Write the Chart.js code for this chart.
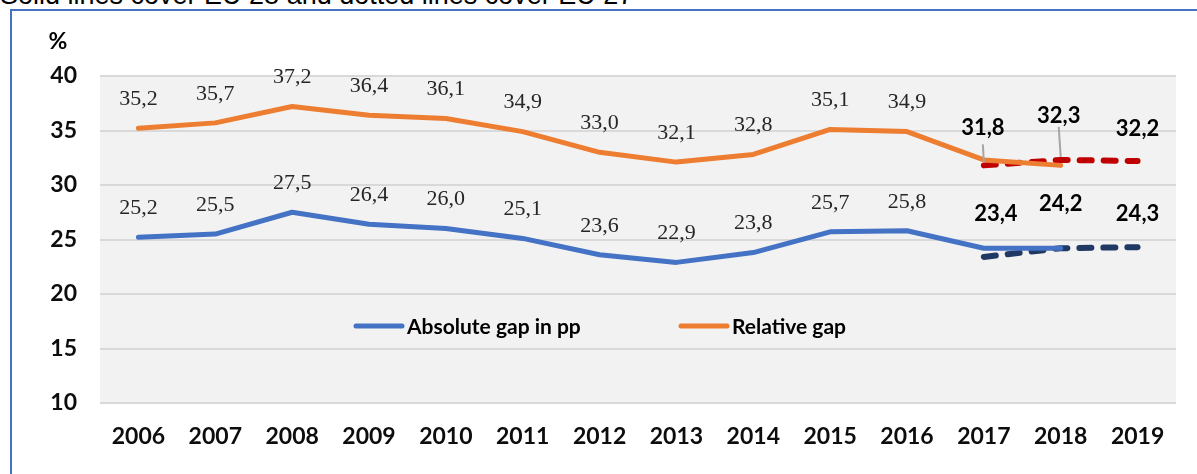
<!DOCTYPE html>
<html>
<head>
<meta charset="utf-8">
<script src="https://cdn.jsdelivr.net/npm/chart.js@4.4.1/dist/chart.umd.min.js"></script>
<style>
  html, body { margin: 0; padding: 0; background: #fff; overflow: hidden; }
  #note { position: absolute; left: 0; top: -18px; font-family: "Liberation Sans", Arial, sans-serif; font-size: 27px; line-height: 27px; color: #000; white-space: nowrap; }
  #frame { position: absolute; left: 10px; top: 9px; width: 1200px; height: 480px; border-left: 2px solid #4472c4; border-top: 2px solid #4472c4; }
  #wrap { position: absolute; left: 0; top: 0; width: 1197px; height: 474px; }
</style>
</head>
<body>
<div id="note">Solid lines cover EU 28 and dotted lines cover EU 27</div>
<div id="frame"></div>
<div id="wrap"><canvas id="chart" width="1197" height="474"></canvas></div>
<script>
// Data
const years = ['2006', '2007', '2008', '2009', '2010', '2011', '2012', '2013', '2014', '2015', '2016', '2017', '2018', '2019'];
const absGapEU28 = [25.2, 25.5, 27.5, 26.4, 26.0, 25.1, 23.6, 22.9, 23.8, 25.7, 25.8, 24.2, 24.2, null];
const relGapEU28 = [35.2, 35.7, 37.2, 36.4, 36.1, 34.9, 33.0, 32.1, 32.8, 35.1, 34.9, 32.3, 31.8, null];
const absGapEU27 = [null, null, null, null, null, null, null, null, null, null, null, 23.4, 24.2, 24.3];
const relGapEU27 = [null, null, null, null, null, null, null, null, null, null, null, 31.8, 32.3, 32.2];
// which EU28 points carry a value label (2017/2018 are labelled on the EU27 lines)
const labelledEU28 = 11;
const yTicks = [10, 15, 20, 25, 30, 35, 40];

const fmt = v => v.toFixed(1).replace('.', ',');
const sansBold = size => 'bold ' + size + 'px Lato, "Open Sans", sans-serif';

// grey plot area
const plotBackground = {
    id: 'plotBackground',
    beforeDraw(chart) {
        const { ctx, chartArea: a } = chart;
        ctx.save();
        ctx.fillStyle = '#f2f2f2';
        ctx.fillRect(a.left, a.top, a.right - a.left, a.bottom - a.top);
        ctx.restore();
    }
};

// value labels, leader lines, in-plot legend and the % unit
const annotations = {
    id: 'annotations',
    afterDatasetsDraw(chart) {
        const ctx = chart.ctx;
        ctx.save();
        ctx.textAlign = 'center';
        ctx.textBaseline = 'middle';

        // EU28: serif labels above the points
        [0, 1].forEach(di => {
            const meta = chart.getDatasetMeta(di);
            const data = chart.data.datasets[di].data;
            ctx.font = '22px "Liberation Serif", "Times New Roman", serif';
            ctx.fillStyle = '#262626';
            for (let i = 0; i < labelledEU28; i++) {
                const p = meta.data[i];
                ctx.fillText(fmt(data[i]), p.x, p.y - 29);
            }
        });

        // EU27: bold labels, nudged like in the source
        const nudges = {
            2: [[12, -43], [0, -44], [0, -33]],
            3: [[-1, -37], [-2, -44], [0, -32]]
        };
        // leader lines on the relative-gap labels
        const meta3 = chart.getDatasetMeta(3);
        ctx.strokeStyle = '#a6a6a6';
        ctx.lineWidth = 2;
        [[11, -1, -21], [12, -2, -33]].forEach(([i, dx, top]) => {
            const p = meta3.data[i];
            ctx.beginPath();
            ctx.moveTo(p.x + dx, p.y + top);
            ctx.lineTo(p.x, p.y - 3);
            ctx.stroke();
        });

        ctx.font = sansBold(22);
        ctx.fillStyle = '#000';
        [2, 3].forEach(di => {
            const meta = chart.getDatasetMeta(di);
            const data = chart.data.datasets[di].data;
            nudges[di].forEach(([dx, dy], k) => {
                const i = 11 + k;
                const p = meta.data[i];
                ctx.fillText(fmt(data[i]), p.x + dx, p.y + dy);
            });
        });
        ctx.restore();
    },
    afterDraw(chart) {
        const { ctx, chartArea: a } = chart;
        ctx.save();
        // unit
        ctx.font = sansBold(23);
        ctx.fillStyle = '#000';
        ctx.textAlign = 'center';
        ctx.textBaseline = 'middle';
        ctx.fillText('%', 58, 42);

        // legend inside the plot
        const ly = a.top + 250;
        const items = [
            { x: a.left + 256, color: '#4472c4', text: 'Absolute gap in pp' },
            { x: a.left + 581, color: '#ed7d31', text: 'Relative gap' }
        ];
        ctx.font = sansBold(21);
        ctx.textAlign = 'left';
        ctx.lineCap = 'round';
        ctx.lineWidth = 5;
        items.forEach(it => {
            ctx.strokeStyle = it.color;
            ctx.beginPath();
            ctx.moveTo(it.x, ly);
            ctx.lineTo(it.x + 46, ly);
            ctx.stroke();
            ctx.fillText(it.text, it.x + 51, ly + 1);
        });
        ctx.restore();
    }
};

const solid = (label, data, color) => ({
    label, data,
    borderColor: color,
    borderWidth: 5,
    borderCapStyle: 'round',
    borderJoinStyle: 'round',
    pointRadius: 0,
    tension: 0,
    spanGaps: false
});
const dotted = (label, data, color) => Object.assign(solid(label, data, color), {
    borderWidth: 6,
    borderDash: [12, 12],
    borderCapStyle: 'round'
});

new Chart(document.getElementById('chart').getContext('2d'), {
    type: 'line',
    data: {
        labels: years,
        datasets: [
            solid('Absolute gap in pp', absGapEU28, '#4472c4'),
            solid('Relative gap', relGapEU28, '#ed7d31'),
            dotted('Absolute gap in pp EU27', absGapEU27, '#1f3864'),
            dotted('Relative gap EU27', relGapEU27, '#c00000')
        ]
    },
    options: {
        responsive: false,
        animation: false,
        events: [],
        layout: { padding: { top: 76, right: 21, left: 0, bottom: 0 } },
        plugins: {
            legend: { display: false },
            tooltip: { enabled: false },
            title: { display: false }
        },
        scales: {
            x: {
                offset: true,
                grid: { display: false, drawTicks: false },
                border: { display: false },
                ticks: {
                    padding: 20,
                    color: '#0d0d0d',
                    font: { family: 'Lato, "Open Sans", sans-serif', size: 23, weight: 'bold' },
                    maxRotation: 0,
                    autoSkip: false
                },
                afterFit: scale => { scale.height = 71; }
            },
            y: {
                min: 10,
                max: 40,
                afterBuildTicks: scale => { scale.ticks = yTicks.map(v => ({ value: v })); },
                grid: { color: '#d9d9d9', lineWidth: 2, drawTicks: false },
                border: { display: false },
                ticks: {
                    padding: 23,
                    color: '#0d0d0d',
                    font: { family: 'Lato, "Open Sans", sans-serif', size: 23, weight: 'bold' }
                },
                afterFit: scale => { scale.width = 100; }
            }
        }
    },
    plugins: [plotBackground, annotations]
});
</script>
</body>
</html>
